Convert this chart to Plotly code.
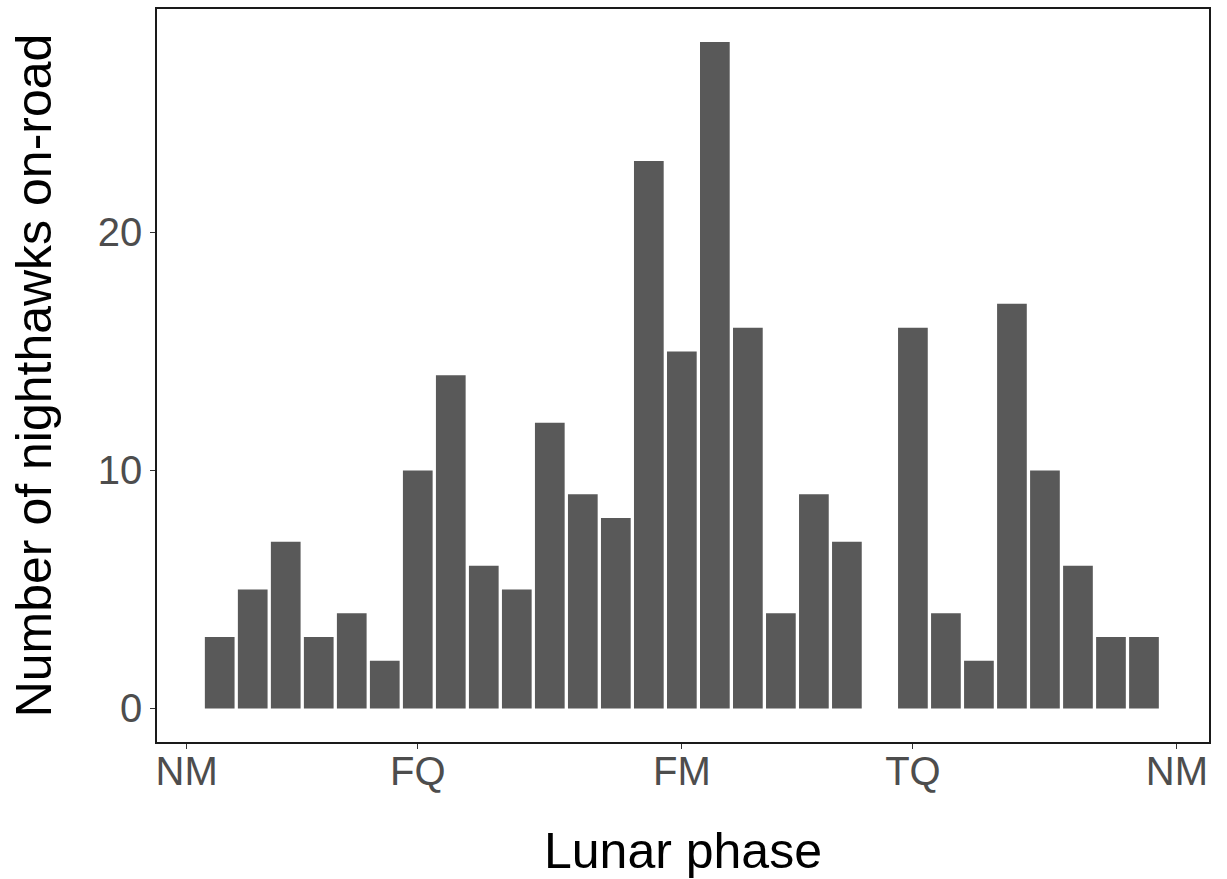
import plotly.graph_objects as go

# Lunar day (days since new moon) and counts of nighthawks on-road
days = [1, 2, 3, 4, 5, 6, 7, 8, 9, 10, 11, 12, 13, 14, 15, 16, 17, 18, 19, 20,
        22, 23, 24, 25, 26, 27, 28, 29]
counts = [3, 5, 7, 3, 4, 2, 10, 14, 6, 5, 12, 9, 8, 23, 15, 28, 16, 4, 9, 7,
          16, 4, 2, 17, 10, 6, 3, 3]

phase_ticks = [0, 7, 15, 22, 30]
phase_labels = ["NM", "FQ", "FM", "TQ", "NM"]
y_ticks = [0, 10, 20]

fig = go.Figure()
fig.add_trace(go.Bar(
    x=days, y=counts, width=0.9,
    marker=dict(color="#595959", line=dict(width=0)),
    hoverinfo="x+y",
))

font_family = "Liberation Sans, Arial, sans-serif"

fig.update_layout(
    width=1227, height=879,
    margin=dict(l=157, r=18, t=7, b=137),
    plot_bgcolor="white", paper_bgcolor="white",
    showlegend=False,
    font=dict(family=font_family),
    xaxis=dict(
        range=[-0.9, 30.97],
        tickmode="array", tickvals=phase_ticks, ticktext=phase_labels,
        ticks="outside", ticklen=5, tickwidth=1.3, tickcolor="#333333",
        ticklabelstandoff=-12,
        tickfont=dict(size=40, color="#4D4D4D", family=font_family),
        showgrid=False, zeroline=False,
        showline=True, mirror=True, linecolor="#1a1a1a", linewidth=1.6,
        title=dict(text="Lunar phase", font=dict(size=50, color="black", family=font_family), standoff=41),
    ),
    yaxis=dict(
        range=[-1.41, 29.39],
        tickmode="array", tickvals=y_ticks, ticktext=[str(v) for v in y_ticks],
        ticks="outside", ticklen=5, tickwidth=1.3, tickcolor="#333333",
        tickfont=dict(size=40, color="#4D4D4D", family=font_family),
        showgrid=False, zeroline=False,
        showline=True, mirror=True, linecolor="#1a1a1a", linewidth=1.6,
        title=dict(text="Number of nighthawks on-road", font=dict(size=50, color="black", family=font_family), standoff=30),
    ),
)

fig.write_html("out.html")
